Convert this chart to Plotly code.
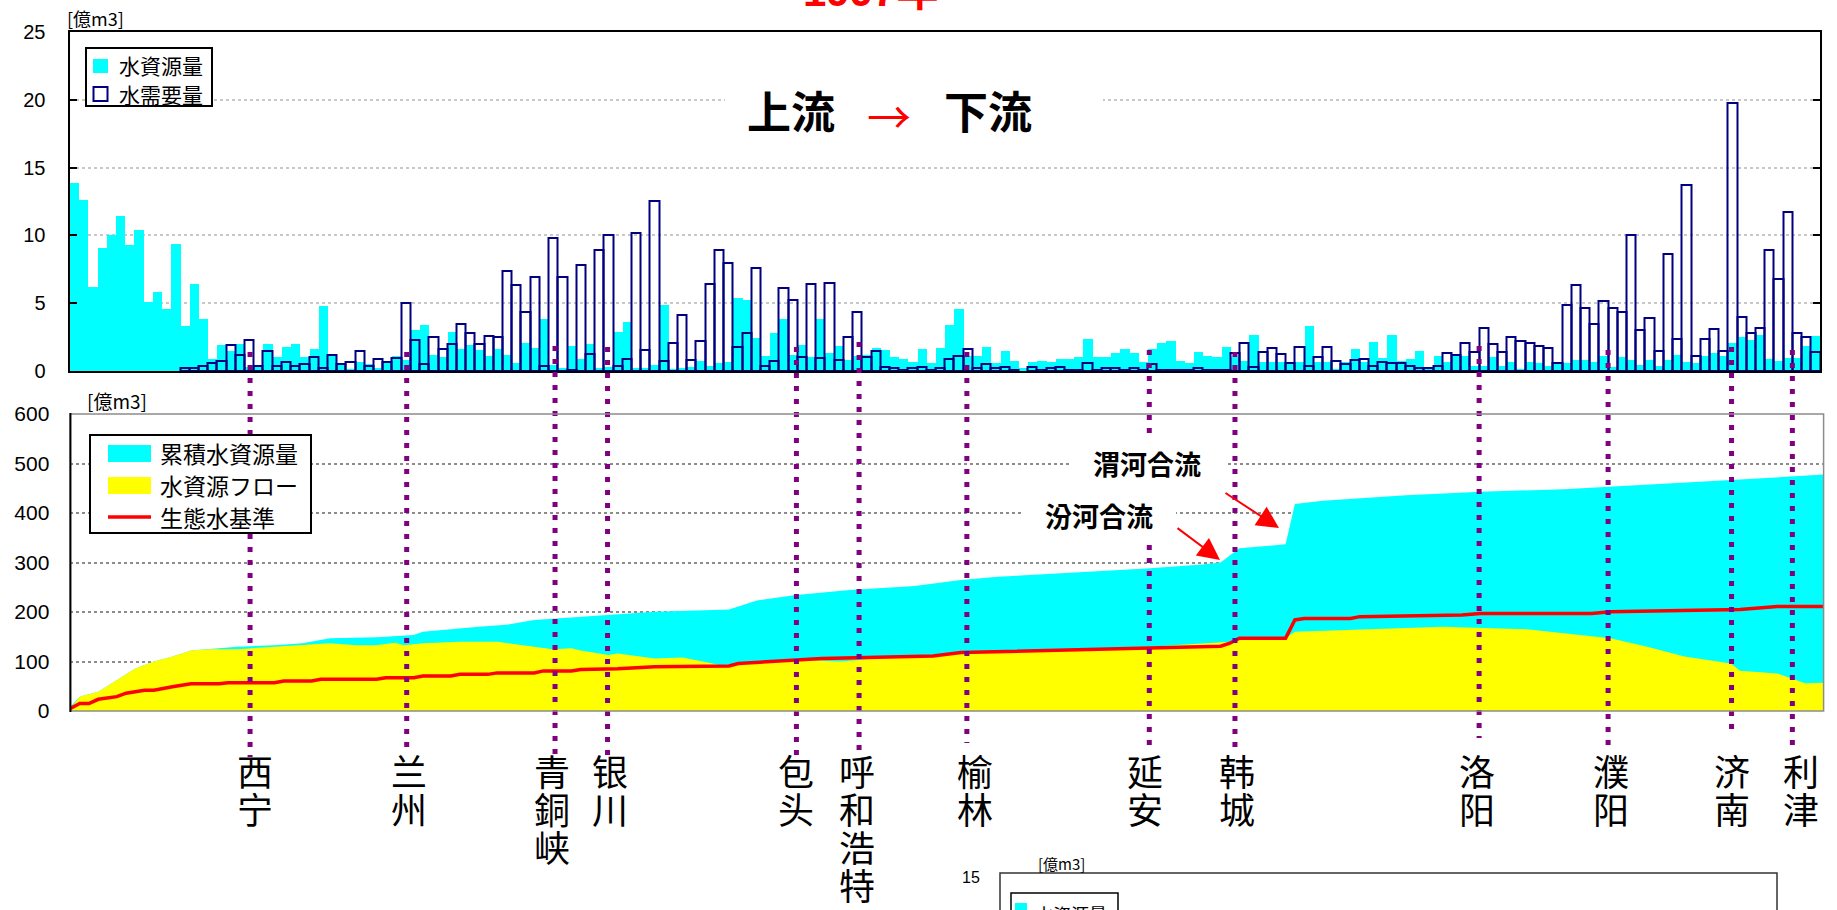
import plotly.graph_objects as go

W, H = 1837, 910


def px(x):
    return x / W


def py(y):
    return 1 - y / H


# ---------------- upper panel: water resources vs demand per reach [億m3] ----------------
supply = [
    13.9, 12.6, 6.2, 9.1, 10.0, 11.4, 9.3, 10.4, 5.1, 5.8,
    4.6, 9.4, 3.3, 6.45, 3.8, 0.86, 1.9, 1.5, 2.0, 0.3,
    0.3, 2.0, 1.0, 1.75, 2.0, 1.05, 1.6, 4.8, 1.2, 0.5,
    0.1, 0.7, 0.5, 0.2, 0.75, 1.1, 0.8, 3.0, 3.4, 1.2,
    1.0, 2.9, 1.6, 1.9, 1.55, 1.1, 1.6, 1.2, 0.57, 2.04,
    1.7, 3.84, 0.44, 0.2, 1.85, 0.9, 2.0, 0.2, 0.3, 2.9,
    3.64, 0.2, 0.2, 0.44, 4.87, 0.1, 0.2, 0.3, 0.76, 0.37,
    0.6, 0.7, 5.4, 5.24, 2.46, 1.1, 2.8, 3.84, 1.2, 1.9,
    1.05, 3.84, 1.3, 1.85, 0.8, 1.1, 1.2, 1.7, 1.55, 1.0,
    0.9, 0.7, 1.6, 0.57, 1.7, 3.4, 4.55, 1.1, 1.1, 1.8,
    0.57, 1.5, 0.76, 0.2, 0.7, 0.76, 0.7, 0.86, 0.86, 1.0,
    2.34, 1.0, 1.0, 1.3, 1.6, 1.3, 0.7, 1.6, 2.04, 2.24,
    0.76, 0.57, 1.43, 1.1, 1.0, 1.8, 1.0, 0.76, 2.66, 0.7,
    0.7, 0.7, 0.7, 0.7, 3.3, 0.7, 0.7, 0.1, 0.7, 1.6,
    0.7, 2.17, 0.93, 2.66, 0.76, 0.86, 1.5, 0.1, 1.1, 0.7,
    1.1, 1.1, 0.37, 0.37, 1.0, 0.37, 0.7, 0.1, 0.7, 0.57,
    0.37, 0.57, 0.57, 0.8, 0.8, 0.7, 1.1, 0.3, 1.0, 0.8,
    0.44, 0.8, 0.37, 0.8, 1.2, 0.7, 0.57, 1.1, 1.3, 1.1,
    2.1, 2.53, 2.29, 2.66, 0.86, 0.76, 0.93, 0.93, 1.85, 2.58,
]

demand = [
    None, None, None, None, None, None, None, None, None, None,
    None, None, 0.2, 0.2, 0.35, 0.6, 0.75, 1.9, 1.15, 2.3,
    0.4, 1.5, 0.35, 0.65, 0.35, 0.55, 1.0, 0.25, 1.15, 0.55,
    0.65, 1.45, 0.4, 0.85, 0.7, 0.95, 5.0, 2.3, 0.5, 2.5,
    1.6, 2.0, 3.5, 2.8, 2.0, 2.6, 2.5, 7.4, 6.35, 4.33,
    6.9, 0.4, 9.8, 6.96, 0.1, 7.8, 1.25, 8.9, 10.0, 0.4,
    0.86, 10.2, 1.55, 12.55, 0.74, 2.04, 4.13, 0.8, 2.2, 6.4,
    8.9, 8.0, 1.8, 2.8, 7.6, 0.4, 0.74, 6.1, 5.24, 1.06,
    6.4, 0.93, 6.5, 0.8, 2.5, 4.33, 1.06, 1.5, 0.3, 0.2,
    0.1, 0.2, 0.3, 0.1, 0.2, 0.86, 1.13, 1.6, 0.2, 0.5,
    0.2, 0.3, 0.1, None, 0.3, 0.1, 0.2, 0.3, 0.1, 0.1,
    0.57, 0.1, 0.2, 0.2, 0.1, 0.2, 0.05, 0.5, 0.1, 0.1,
    0.1, 0.1, 0.2, 0.1, 0.1, 0.1, 1.3, 2.04, 0.3, 1.43,
    1.67, 1.25, 0.57, 1.8, 0.37, 1.06, 1.8, 0.76, 0.5, 0.8,
    0.86, 0.37, 0.7, 0.6, 0.6, 0.37, 0.2, 0.2, 0.37, 1.3,
    1.18, 2.1, 1.38, 3.15, 2.0, 1.38, 2.53, 2.24, 2.04, 1.85,
    1.67, 0.57, 4.87, 6.35, 4.63, 3.5, 5.17, 4.63, 4.33, 10.0,
    3.0, 3.9, 1.5, 8.64, 2.34, 13.7, 1.13, 2.34, 3.08, 1.5,
    19.8, 4.0, 2.78, 3.15, 8.9, 6.77, 11.7, 2.83, 2.53, 1.38,
]
reach = list(range(len(supply)))

# ---------------- lower panel: cumulative resources, flow, ecological standard [億m3] ----------------
cum_pos = [0, 1, 3, 7, 9, 11, 13, 15, 18, 22, 25, 28, 33, 37, 38, 44, 47, 50, 54, 57,
           59, 63, 71, 74, 78, 84, 91, 96, 100, 108, 116, 122, 124, 126, 131, 132, 135,
           144, 152, 161, 170, 179, 185, 189]
cum_val = [9, 29, 39, 86, 100, 110, 122, 125, 130, 133, 137, 147, 149, 153.5, 160, 170, 174,
           184, 189, 193, 196, 200.7, 205, 223, 234, 244.5, 252.5, 264.7, 271, 279.5, 288,
           296, 300, 328.6, 336.7, 418, 425, 436, 443, 448, 456.6, 466.7, 473, 478]

flow_pos = [0, 1, 3, 7, 9, 11, 13, 15, 18, 22, 28, 31, 33, 35, 36, 38, 42, 46, 50, 52, 54,
            55, 58, 59, 61, 63, 66, 70, 74, 79, 83, 87, 96, 104, 113, 119, 124, 125, 126,
            131, 132, 139, 148, 157, 166, 170, 174, 179, 180, 184, 186, 187, 189]
flow_val = [5, 29, 39, 86, 100, 110, 122, 125, 125, 130, 137, 133, 133, 138, 133, 137, 140,
            140, 130, 125, 127, 122, 113, 116, 111, 106, 108, 93, 96, 103, 100, 106, 115, 122,
            126, 133, 140, 140, 147, 147, 160, 165, 170, 165, 147, 130, 110, 96, 81.5, 76,
            62.6, 56, 57]

eco_pos = [0, 1, 2, 3, 5, 6, 8, 9, 11, 13, 16, 17, 22, 23, 26, 27, 33, 34, 37, 38, 41, 42,
           45, 46, 50, 51, 54, 55, 59, 63, 71, 72, 81, 93, 96, 100, 108, 117, 124, 125, 126,
           131, 132, 133, 138, 139, 142, 150, 152, 164, 166, 174, 180, 184, 189]
eco_val = [5, 15, 15, 23.6, 29, 36, 42, 42, 49, 55, 55, 57, 57, 60.6, 60.6, 64, 64, 67, 67,
           70.7, 70.7, 74, 74, 77, 77, 81, 81, 84, 85.5, 89.6, 91, 96, 106, 111, 118, 120,
           124.6, 128, 131, 137, 147, 147, 184, 187, 187, 190.6, 192, 194, 197, 197, 200.7,
           204, 205, 211, 211]

# ---------------- cities along the river (position in reach units of the upper panel) ----------------
cities = ["西宁", "兰州", "青銅峡", "银川", "包头", "呼和浩特", "榆林",
          "延安", "韩城", "洛阳", "濮阳", "济南", "利津"]
city_pos = [19.1, 36.1, 52.2, 57.9, 78.4, 85.2, 96.9, 116.7, 126.0, 152.5, 166.5, 179.9, 186.5]
label_shift = [5, 2, -3, 2, 0, -2, 8, -4, 2, -2, 3, 0, 9]
line_top = [352, 352, 346, 347, 347, 342, 352, 350, 352, 346, 350, 347, 350]
line_bottom = [757, 753, 758, 757, 758, 753, 743, 745, 752, 738, 747, 737, 745]

CJK = "Noto Sans CJK JP"
LAT = "Liberation Sans"

fig = go.Figure()

fig.add_trace(go.Bar(
    x=reach, y=supply, xaxis="x", yaxis="y", name="水資源量",
    marker=dict(color="#00FFFF", line=dict(width=0)),
))
fig.add_trace(go.Bar(
    x=reach, y=demand, xaxis="x", yaxis="y", name="水需要量",
    marker=dict(color="rgba(0,0,0,0)", line=dict(color="#000080", width=2)),
))
fig.add_trace(go.Scatter(
    x=cum_pos, y=cum_val, xaxis="x2", yaxis="y2", mode="lines", name="累積水資源量",
    fill="tozeroy", fillcolor="#00FFFF", line=dict(width=0, color="#00FFFF"),
))
fig.add_trace(go.Scatter(
    x=flow_pos, y=flow_val, xaxis="x2", yaxis="y2", mode="lines", name="水資源フロー",
    fill="tozeroy", fillcolor="#FFFF00", line=dict(width=0, color="#FFFF00"),
))
fig.add_trace(go.Scatter(
    x=eco_pos, y=eco_val, xaxis="x2", yaxis="y2", mode="lines", name="生態水基準",
    line=dict(color="#FF0000", width=3.5),
))

shapes = []

# purple dotted guide lines through both panels
for pos, y0, y1 in zip(city_pos, line_top, line_bottom):
    shapes.append(dict(type="line", xref="x", yref="paper", x0=pos, x1=pos,
                       y0=py(y0), y1=py(y1), layer="above",
                       line=dict(color="#800080", width=5, dash="5px,8px")))

# white boxes behind headings / notes
for x0, x1, y0, y1 in [(725, 1103, 82, 138), (1070, 1225, 437, 492), (1021, 1176, 492, 545)]:
    shapes.append(dict(type="rect", xref="paper", yref="paper", x0=px(x0), x1=px(x1),
                       y0=py(y1), y1=py(y0), fillcolor="white", line=dict(width=0), layer="above"))

# lower panel frame
shapes.append(dict(type="rect", xref="paper", yref="paper", x0=px(70.4), x1=px(1823.6),
                   y0=py(711), y1=py(414), line=dict(color="#8c8c8c", width=1.5), layer="above"))
shapes.append(dict(type="line", xref="paper", yref="paper", x0=px(70.4), x1=px(70.4),
                   y0=py(712), y1=py(413), line=dict(color="black", width=2), layer="above"))

# upper legend
shapes.append(dict(type="rect", xref="paper", yref="paper", x0=px(86), x1=px(212), y0=py(106), y1=py(48),
                   fillcolor="white", line=dict(color="black", width=2), layer="above"))
shapes.append(dict(type="rect", xref="paper", yref="paper", x0=px(93), x1=px(108), y0=py(73), y1=py(59),
                   fillcolor="#00FFFF", line=dict(width=0), layer="above"))
shapes.append(dict(type="rect", xref="paper", yref="paper", x0=px(93.5), x1=px(107.5), y0=py(101), y1=py(87),
                   fillcolor="white", line=dict(color="#000080", width=2), layer="above"))

# lower legend
shapes.append(dict(type="rect", xref="paper", yref="paper", x0=px(90), x1=px(311), y0=py(533), y1=py(435),
                   fillcolor="white", line=dict(color="black", width=2), layer="above"))
shapes.append(dict(type="rect", xref="paper", yref="paper", x0=px(108), x1=px(151), y0=py(462), y1=py(445),
                   fillcolor="#00FFFF", line=dict(width=0), layer="above"))
shapes.append(dict(type="rect", xref="paper", yref="paper", x0=px(108), x1=px(151), y0=py(494), y1=py(477),
                   fillcolor="#FFFF00", line=dict(width=0), layer="above"))
shapes.append(dict(type="line", xref="paper", yref="paper", x0=px(108), x1=px(151), y0=py(517), y1=py(517),
                   line=dict(color="#FF0000", width=3.5), layer="above"))

# next panel peeking in at the bottom
shapes.append(dict(type="rect", xref="paper", yref="paper", x0=px(1000), x1=px(1777), y0=py(960), y1=py(873),
                   fillcolor="white", line=dict(color="#333333", width=1.5), layer="above"))
shapes.append(dict(type="rect", xref="paper", yref="paper", x0=px(1011), x1=px(1118), y0=py(960), y1=py(893),
                   fillcolor="white", line=dict(color="black", width=1.5), layer="above"))
shapes.append(dict(type="rect", xref="paper", yref="paper", x0=px(1015), x1=px(1027), y0=py(915), y1=py(903),
                   fillcolor="#00FFFF", line=dict(width=0), layer="above"))

ann = []


def text(x, y, s, size, color="black", family=CJK, bold=False, xanchor="center", yanchor="middle"):
    if bold:
        s = "<b>" + s + "</b>"
    ann.append(dict(xref="paper", yref="paper", x=px(x), y=py(y), text=s, showarrow=False,
                    xanchor=xanchor, yanchor=yanchor,
                    font=dict(size=size, color=color, family=family)))


# year heading (cut by the top edge of the page)
ann.append(dict(xref="paper", yref="paper", x=px(870), y=py(-34), text="<b>1997年</b>",
                showarrow=False, xanchor="center", yanchor="top",
                font=dict(size=42, color="#FF0000", family=LAT + ", " + CJK)))

text(95, 18, "[億m3]", 18, family=CJK)
text(117, 400, "[億m3]", 19, family=CJK)
text(1061, 863, "[億m3]", 15, family=CJK)
text(971, 877, "15", 16, family=LAT)

text(791, 110, "上流", 44, bold=True)
text(889, 115, "→", 44, color="#FF0000")
text(988, 110, "下流", 44, bold=True)

text(117, 65, "水資源量", 21, xanchor="left")
text(117, 94, "水需要量", 21, xanchor="left")
text(158, 453, "累積水資源量", 23, xanchor="left")
text(158, 485, "水資源フロー", 23, xanchor="left")
text(158, 517, "生態水基準", 23, xanchor="left")
text(1033, 914, "水資源量", 18, xanchor="left")

text(1147, 464, "渭河合流", 27, bold=True)
text(1099, 515, "汾河合流", 27, bold=True)

# red pointers to the confluences
ann.append(dict(xref="paper", yref="paper", x=px(1220), y=py(560), ax=-44, ay=-33, text="",
                showarrow=True, arrowhead=2, arrowsize=2.2, arrowwidth=2, arrowcolor="#FF0000", standoff=0))
ann.append(dict(xref="paper", yref="paper", x=px(1279), y=py(528), ax=-55, ay=-36, text="",
                showarrow=True, arrowhead=2, arrowsize=2.2, arrowwidth=2, arrowcolor="#FF0000", standoff=0))

# vertical city names, one character per row
for name, pos, dx in zip(cities, city_pos, label_shift):
    for i, ch in enumerate(name):
        ann.append(dict(xref="x", yref="paper", x=pos, y=py(770 + 38 * i), text=ch,
                        showarrow=False, xanchor="center", yanchor="middle", xshift=dx,
                        font=dict(size=36, color="black", family="Noto Sans CJK SC")))

fig.update_layout(
    width=W, height=H, autosize=False,
    margin=dict(l=0, r=0, t=0, b=0, autoexpand=False),
    paper_bgcolor="white", plot_bgcolor="white",
    showlegend=False, barmode="overlay", bargap=0,
    xaxis=dict(domain=[px(69.5), px(1820)], range=[-0.5, len(supply) - 0.5], anchor="y",
               automargin=False,
               showticklabels=False, ticks="", showgrid=False, zeroline=False,
               showline=True, linecolor="black", linewidth=2, mirror=True),
    yaxis=dict(domain=[py(371), py(32)], range=[0, 25], tickvals=[0, 5, 10, 15, 20, 25], anchor="x",
               automargin=False,
               showgrid=True, gridcolor="#c8c8c8", griddash="dot", gridwidth=1.5, zeroline=False,
               showline=True, linecolor="black", linewidth=2, mirror="ticks",
               ticks="inside", ticklen=7, tickcolor="black", tickwidth=1.5,
               ticklabelstandoff=18,
               tickfont=dict(size=20, color="black", family=LAT)),
    xaxis2=dict(domain=[px(70.4), px(1823.6)], range=[0, 189], anchor="y2", automargin=False,
                showticklabels=False, ticks="", showgrid=False, zeroline=False, showline=False),
    yaxis2=dict(domain=[py(711), py(414)], range=[0, 600], dtick=100, anchor="x2", automargin=False,
                showgrid=True, gridcolor="#8c8c8c", griddash="dot", gridwidth=1.5, zeroline=False,
                showline=False, ticks="", ticklabelstandoff=20,
                tickfont=dict(size=21, color="black", family=LAT)),
    shapes=shapes,
    annotations=ann,
)

fig.write_html("out.html")
